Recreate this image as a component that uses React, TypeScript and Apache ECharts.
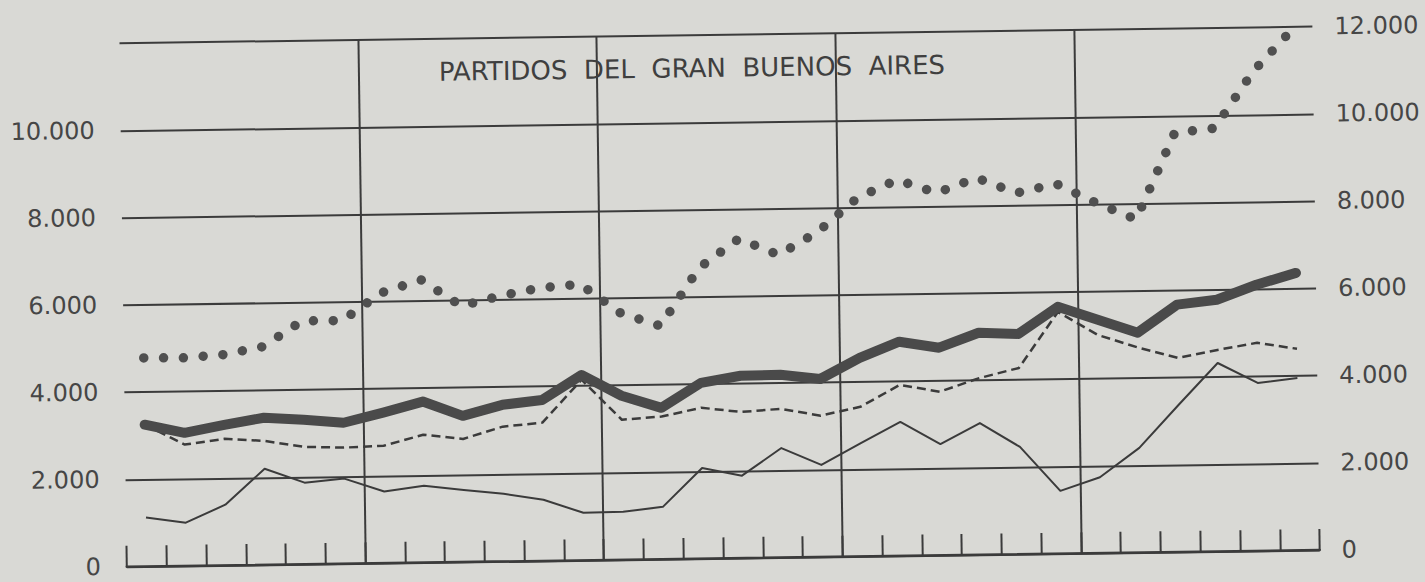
import React, { useEffect, useRef } from "react";
import * as echarts from "echarts";

// Bimonthly periods over five years (6 per year)
const periods = [
  "A1-1", "A1-2", "A1-3", "A1-4", "A1-5", "A1-6",
  "A2-1", "A2-2", "A2-3", "A2-4", "A2-5", "A2-6",
  "A3-1", "A3-2", "A3-3", "A3-4", "A3-5", "A3-6",
  "A4-1", "A4-2", "A4-3", "A4-4", "A4-5", "A4-6",
  "A5-1", "A5-2", "A5-3", "A5-4", "A5-5", "A5-6",
];

const yTickValues = [0, 2000, 4000, 6000, 8000, 10000, 12000];

const chartTitle = "PARTIDOS\u00a0\u00a0DEL\u00a0\u00a0GRAN\u00a0\u00a0BUENOS\u00a0\u00a0AIRES";

// thick solid line
const thickSeries = [
  3250, 3050, 3220, 3370, 3310, 3230,
  3450, 3690, 3350, 3590, 3690, 4250,
  3760, 3470, 4030, 4180, 4190, 4080,
  4550, 4910, 4760, 5090, 5050, 5660,
  5350, 5040, 5670, 5770, 6100, 6360,
];

// dashed line
const dashedSeries = [
  3250, 2780, 2900, 2840, 2690, 2660,
  2690, 2930, 2820, 3090, 3170, 4140,
  3210, 3270, 3460, 3350, 3410, 3240,
  3430, 3920, 3750, 4050, 4270, 5540,
  5000, 4700, 4450, 4620, 4770, 4620,
];

// thin solid line
const thinSeries = [
  1120, 990, 1390, 2200, 1870, 1950,
  1640, 1760, 1650, 1550, 1400, 1090,
  1100, 1200, 2080, 1890, 2510, 2110,
  2600, 3070, 2550, 3020, 2460, 1440,
  1740, 2400, 3370, 4320, 3850, 3950,
];

// dotted line (right scale)
const dottedSeries = [
  4780, 4770, 4830, 5000, 5580, 5570,
  6200, 6480, 5870, 6090, 6260, 6330,
  5660, 5350, 6670, 7320, 6940, 7460,
  8220, 8620, 8310, 8640, 8280, 8480,
  8030, 7640, 9610, 9700, 11000, 11950,
];

const INK = "#3b3b3b";
const FONT = "DejaVu Sans";

function fmt(v: number): string {
  if (v === 0) return "0";
  return String(v).replace(/\B(?=(\d{3})+(?!\d))/g, ".");
}

export default function App() {
  const ref = useRef<HTMLDivElement>(null);

  useEffect(() => {
    if (!ref.current) return;
    const chart = echarts.init(ref.current, undefined, { renderer: "svg" });
    const yMax = yTickValues[yTickValues.length - 1];
    const yStep = yTickValues[1] - yTickValues[0];
    const option: any = {
      animation: false,
      backgroundColor: "transparent",
      title: {
        text: chartTitle,
        left: 437,
        top: 50,
        textStyle: {
          fontFamily: FONT,
          fontSize: 26,
          fontWeight: "normal",
          color: "#3f3f3f",
        },
      },
      grid: { left: 123, right: 105, top: 35, bottom: 23.5, containLabel: false },
      xAxis: [
        {
          type: "category",
          data: periods,
          boundaryGap: true,
          position: "bottom",
          axisLine: { show: true, lineStyle: { color: INK, width: 2.5 } },
          axisTick: { show: true, inside: true, length: 21, interval: 0, lineStyle: { color: INK, width: 2 } },
          axisLabel: { show: false },
          splitLine: { show: false },
        },
        {
          type: "value",
          min: 0,
          max: periods.length,
          interval: 6,
          position: "top",
          axisLine: { show: false },
          axisTick: { show: false },
          axisLabel: { show: false },
          splitLine: {
            show: true,
            showMinLine: false,
            showMaxLine: false,
            lineStyle: { color: INK, width: 2 },
          },
        },
      ],
      yAxis: [
        {
          type: "value",
          min: 0,
          max: yMax,
          interval: yStep,
          position: "left",
          axisLine: { show: false },
          axisTick: { show: false },
          axisLabel: {
            formatter: (v: number) => (v === yMax ? "" : fmt(v)),
            fontFamily: FONT,
            fontSize: 24,
            color: "#464646",
            margin: 26,
          },
          splitLine: { show: true, lineStyle: { color: INK, width: 2 } },
        },
        {
          type: "value",
          min: 0,
          max: yMax,
          interval: yStep,
          position: "right",
          axisLine: { show: false },
          axisTick: { show: false },
          axisLabel: {
            formatter: (v: number) => fmt(v),
            fontFamily: FONT,
            fontSize: 24,
            color: "#464646",
            margin: 22,
          },
          splitLine: { show: false },
        },
      ],
      series: [
        {
          name: "dashed",
          type: "line",
          data: dashedSeries,
          symbol: "none",
          z: 2,
          lineStyle: { color: INK, width: 2.5, type: [9, 5], join: "round" },
        },
        {
          name: "thin",
          type: "line",
          data: thinSeries,
          symbol: "none",
          z: 3,
          lineStyle: { color: INK, width: 2, join: "round" },
        },
        {
          name: "thick",
          type: "line",
          data: thickSeries,
          symbol: "none",
          z: 4,
          lineStyle: { color: "#4a4a4a", width: 10, join: "round", cap: "round" },
        },
        {
          name: "dotted",
          type: "line",
          data: dottedSeries,
          symbol: "none",
          z: 5,
          lineStyle: { color: "#505050", width: 9.5, type: [0.01, 19.8], cap: "round", join: "round" },
        },
      ],
    };
    chart.setOption(option);
    return () => chart.dispose();
  }, []);

  return (
    <div
      style={{
        position: "absolute",
        left: 0,
        top: 0,
        width: 1425,
        height: 582,
        background: "#d9d9d5",
        overflow: "hidden",
      }}
    >
      <div
        ref={ref}
        style={{ width: 1425, height: 582, transform: "rotate(-0.8deg)" }}
      />
    </div>
  );
}
